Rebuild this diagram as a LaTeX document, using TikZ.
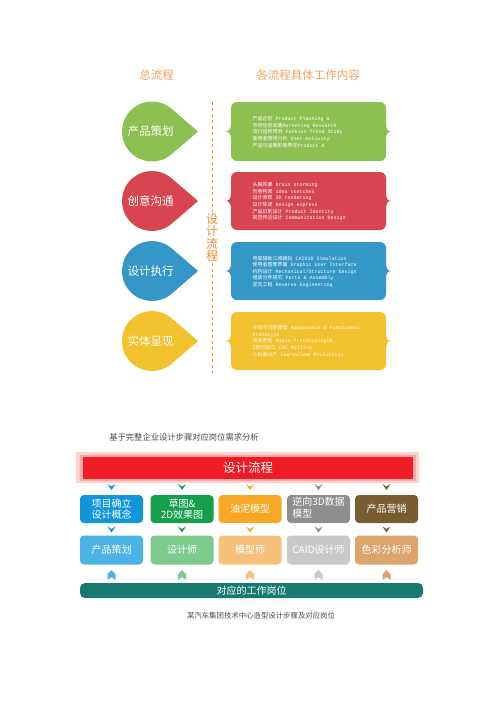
\documentclass[tikz,border=0pt]{standalone}
\usepackage{fontspec}
\setmainfont{Noto Sans CJK SC}
\newfontfamily\cjk{Noto Sans CJK SC}
\newfontfamily\mono{Liberation Mono}
\usetikzlibrary{calc}
\definecolor{cgreen}{HTML}{8CC152}
\definecolor{cred}{HTML}{D64550}
\definecolor{cblue}{HTML}{3497C7}
\definecolor{cyellow}{HTML}{F2C12E}
\definecolor{ctitle}{HTML}{F3A35C}
\definecolor{cvert}{HTML}{F08C2E}
\definecolor{dblue}{HTML}{1296DB}
\definecolor{dgreen}{HTML}{14A04A}
\definecolor{dorange}{HTML}{F9A825}
\definecolor{dgray}{HTML}{8E8E8E}
\definecolor{dbrown}{HTML}{7A5C33}
\definecolor{lblue}{HTML}{4BB4E6}
\definecolor{lgreen}{HTML}{7DCB8D}
\definecolor{lorange}{HTML}{F6C27B}
\definecolor{lgray}{HTML}{C9C9C9}
\definecolor{lbrown}{HTML}{DBA46C}
\definecolor{cteal}{HTML}{177A6E}
\definecolor{cbar}{HTML}{EE1C25}
\newcommand\zl[2]{{\cjk #1}#2}
\newcommand\bracebox[3]{%
  \pgfmathsetmacro\mY{(#1+#2)/2}
  \fill[#3] (237,#1) -- (380,#1) arc[start angle=-90,end angle=0,radius=6]
    -- (386,\mY-8) .. controls (386,\mY-2) and (388,\mY) .. (391,\mY)
    .. controls (388,\mY) and (386,\mY+2) .. (386,\mY+8)
    -- (386,#2-6) arc[start angle=0,end angle=90,radius=6]
    -- (237,#2) arc[start angle=90,end angle=180,radius=6]
    -- (231,\mY+8) .. controls (231,\mY+2) and (229,\mY) .. (225,\mY)
    .. controls (229,\mY) and (231,\mY-2) .. (231,\mY-8)
    -- (231,#1+6) arc[start angle=180,end angle=270,radius=6] -- cycle;}
\newcommand\downchev[2]{\fill[#2] (#1) ++(-4,-3) -- ++(4,2.5) -- ++(4,-2.5) -- ++(-4,6) -- cycle;}
\newcommand\uparr[2]{\fill[#2] (#1) ++(-4,5) -- ++(0,-6) -- ++(4,-4) -- ++(4,4) -- ++(0,6) -- ++(-4,-3) -- cycle;}
\tikzset{
  title/.style={text=ctitle, font=\fontsize{11.5}{13}\selectfont, inner sep=0},
  leaftext/.style={text=white, font=\fontsize{11.5}{13}\selectfont, inner sep=0},
  boxtext/.style={text=white, font=\mono\fontsize{5}{6.6}\selectfont, align=left, inner sep=0, anchor=west},
  vtext/.style={text=cvert, font=\fontsize{12}{12.5}\selectfont, align=center, inner sep=1},
  dashline/.style={cvert, line width=0.9pt, dash pattern=on 3pt off 3pt},
  rbox/.style={rounded corners=4pt, minimum width=63pt, text=white, inner sep=0, align=center, font=\fontsize{10}{11}\selectfont},
  caption/.style={text=black!70, inner sep=0},
}
\begin{document}
\begin{tikzpicture}[x=1pt,y=-1pt]
\useasboundingbox (0,0) rectangle (500,707);
\fill[white] (0,0) rectangle (500,707);
% titles
\node[title] (t0) at (156.5,75.5) {总流程};
\node[title] (t00) at (308,75.5) {各流程具体工作内容};
% leaves
\foreach \y/\c/\t/\n in {131.5/cgreen/产品策划/l1, 201/cred/创意沟通/l2, 271/cblue/设计执行/l3, 341/cyellow/实体呈现/l4} {
  \fill[\c] (198,\y) -- ($(152,\y)+(49:30)$) arc[start angle=49,end angle=311,radius=30] -- cycle;
  \node[leaftext] (\n) at (150.5,\y) {\t};
}
% vertical label and dashed line
\node[vtext] (vt) at (212,237.5) {设\\计\\流\\程};
\coordinate (dtop) at (212,102);
\coordinate (dbot) at (212,373);
\draw[dashline] (dtop) -- (vt.north);
\draw[dashline] (vt.south) -- (dbot);
% boxes
\bracebox{102}{161}{cgreen}
\bracebox{172}{230}{cred}
\bracebox{242}{300}{cblue}
\bracebox{312}{370}{cyellow}
\node[boxtext] (x1) at (252.5,132) {\zl{产品企划}{ Product Planning \&}\\\zl{市场信息收集}{Marketing Research}\\\zl{流行趋势预测}{ Fashion Trend Study}\\\zl{使用者情境分析}{ User-Activity}\\\zl{产品与品牌形象界定}{Product \&}};
\node[boxtext] (x2) at (252.5,201.7) {\zl{头脑风暴}{ brain storming}\\\zl{创意构思}{ idea sketches}\\\zl{设计表现}{ 2D rendering}\\\zl{设计陈述}{ Design express}\\\zl{产品识别设计}{ Product Identity}\\\zl{视觉传达设计}{ Communication Design}};
\node[boxtext] (x3) at (252.5,271.7) {\zl{电脑辅助三维模拟}{ CAID3D Simulation}\\\zl{使用者图像界面}{ Graphic User Interface}\\\zl{机构设计}{ Mechanical/Structure Design}\\\zl{组装分件研究}{ Parts \& Assembly}\\\zl{逆向工程}{ Reverse Engineering}};
\node[boxtext, text=white!92!cyellow] (x4) at (252.5,341) {\zl{外观与功能模型}{ Appearance \& Functional}\\Prototype\\\zl{快速原型}{ Rapid PrototypingCN}\\\zl{C数控加工}{ CNC Milling}\\\zl{小批量试产}{ Low-volume Production}};
% bottom section
\node[caption, font=\fontsize{8.3}{10}\selectfont] (cap1) at (184,437) {基于完整企业设计步骤对应岗位需求分析};
\fill[red!18!white] (76,452) rectangle (419,483);
\fill[red!35!white] (79.5,454.5) rectangle (415.5,481);
\node[fill=cbar, minimum width=330pt, minimum height=22pt, inner sep=0, text=white, font=\fontsize{12.5}{14}\selectfont] (bar) at (248,468) {设计流程};
\foreach \x/\dc/\lc/\a/\b/\n in {111.5/dblue/lblue/项目确立\\设计概念/产品策划/1, 182/dgreen/lgreen/草图\&\\2D效果图/设计师/2, 250/dorange/lorange/油泥模型/模型师/3, 318.5/dgray/lgray/{\begin{tabular}{@{}l@{}}逆向3D数据\\模型\end{tabular}}/CAID设计师/4, 386.5/dbrown/lbrown/产品营销/色彩分析师/5} {
  \node[rbox, fill=\dc, minimum height=28pt] (b\n) at (\x,509) {\a};
  \node[rbox, fill=\lc, minimum height=29pt] (c\n) at (\x,550) {\b};
  \downchev{\x,487}{\dc}
  \downchev{\x,529.5}{\dc}
  \uparr{\x,575}{\lc}
}
\node[fill=cteal, rounded corners=5pt, minimum width=343pt, minimum height=15pt, inner sep=0, text=white, font=\fontsize{10}{12}\selectfont] (post) at (251.5,590.5) {对应的工作岗位};
\node[caption, font=\fontsize{7.4}{9}\selectfont] (cap2) at (261,616) {某汽车集团技术中心造型设计步骤及对应岗位};
\end{tikzpicture}
\end{document}
